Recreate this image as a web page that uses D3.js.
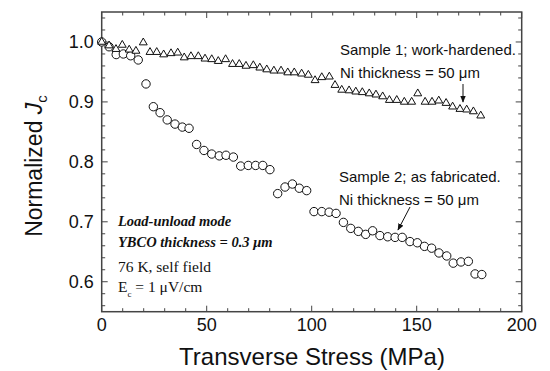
<!DOCTYPE html>
<html><head><meta charset="utf-8">
<script src="https://cdn.jsdelivr.net/npm/d3@7"></script>
<style>body{margin:0;background:#fff}svg{display:block}</style>
</head><body>
<svg id="c" width="550" height="371"></svg>
<script>
const s1x=[0,3.5,6.8,9.8,13.1,16.3,19.8,23,26.2,29.5,33,36.2,39.3,42.5,46,49.2,52.4,55.5,59,62.3,65.5,68.7,72.2,75.3,78.6,82,85.4,88.6,91.7,95.2,98.4,101.6,104.8,108.4,111.1,114.3,117.8,121,124.1,127.4,130.6,133.8,137,140.5,144.1,147.6,150.5,154,157.3,160.5,164,167.1,170.6,173.8,177,180.5];
const s1y=[1.0,0.994,0.988,0.995,0.987,0.985,0.999,0.983,0.983,0.979,0.981,0.982,0.974,0.976,0.976,0.972,0.971,0.968,0.971,0.963,0.963,0.96,0.961,0.957,0.954,0.952,0.952,0.949,0.949,0.947,0.945,0.936,0.941,0.942,0.928,0.92,0.919,0.917,0.916,0.914,0.912,0.909,0.903,0.903,0.9,0.9,0.914,0.9,0.9,0.902,0.898,0.892,0.888,0.887,0.884,0.877];
const s2x=[0,3.5,6.9,10.3,13.8,17.4,21.1,24.6,27.8,31.2,34.9,38.4,41.6,45.2,48.7,52.4,56,59.2,62.7,66.2,69.8,73.3,76.7,80.1,83.8,87.3,90.8,94.1,97.6,101.1,104.8,108.3,111.6,115.1,118.6,122.2,125.7,129,132.5,136.2,139.7,143.1,146.8,150.3,153.7,157.1,160.6,164.3,167.4,171.1,174.6,177.8,181];
const s2y=[1.0,0.992,0.979,0.98,0.977,0.97,0.93,0.892,0.882,0.87,0.863,0.858,0.856,0.829,0.819,0.813,0.81,0.811,0.808,0.793,0.794,0.794,0.794,0.787,0.747,0.758,0.763,0.756,0.752,0.717,0.717,0.716,0.714,0.699,0.689,0.684,0.679,0.685,0.677,0.675,0.674,0.674,0.667,0.665,0.659,0.656,0.648,0.643,0.631,0.633,0.634,0.613,0.612];
const xTicks=[0,50,100,150,200];
const yTicks=[0.6,0.7,0.8,0.9,1.0];

const svg=d3.select('#c');
const L=101.7,R=521.7,T=12,B=311.7;
const x=d3.scaleLinear().domain([0,200]).range([L,R]);
const y=d3.scaleLinear().domain([0.55,1.05]).range([B,T]);
const ax='#444';
const g=svg.append('g');

d3.range(0,201,10).forEach(v=>{const m=v%50===0;const len=m?6:3.5;
  g.append('line').attr('x1',x(v)).attr('x2',x(v)).attr('y1',B).attr('y2',B-len).attr('stroke',ax).attr('stroke-width',1);
  g.append('line').attr('x1',x(v)).attr('x2',x(v)).attr('y1',T).attr('y2',T+len).attr('stroke',ax).attr('stroke-width',1);
});
d3.range(0,26).map(i=>0.56+i*0.02).filter(v=>v<1.05).forEach(v=>{
  const m=Math.abs(Math.round(v*10)-v*10)<1e-6;const len=m?6:3.5;
  g.append('line').attr('x1',L).attr('x2',L+len).attr('y1',y(v)).attr('y2',y(v)).attr('stroke',ax).attr('stroke-width',1);
  g.append('line').attr('x1',R).attr('x2',R-len).attr('y1',y(v)).attr('y2',y(v)).attr('stroke',ax).attr('stroke-width',1);
});
g.append('rect').attr('x',L).attr('y',T).attr('width',R-L).attr('height',B-T).attr('fill','none').attr('stroke',ax).attr('stroke-width',1.5);

const tf='Liberation Sans, Arial, sans-serif';
svg.selectAll('.xl').data(xTicks).join('text').attr('x',d=>x(d)).attr('y',B+19).attr('text-anchor','middle')
  .attr('font-family',tf).attr('font-size',18).attr('fill','#111').text(d=>d);
svg.selectAll('.yl').data(yTicks).join('text').attr('x',L-8).attr('y',d=>y(d)+6.5).attr('text-anchor','end')
  .attr('font-family',tf).attr('font-size',18).attr('fill','#111').text(d=>d3.format('.1f')(d));

svg.append('text').attr('x',312).attr('y',365).attr('text-anchor','middle').attr('font-family',tf).attr('font-size',24).attr('fill','#111').text('Transverse Stress (MPa)');
const yt=svg.append('text').attr('transform','translate(42,166) rotate(-90)').attr('text-anchor','middle').attr('font-family',tf).attr('font-size',23).attr('fill','#111');
yt.append('tspan').text('Normalized ');
yt.append('tspan').attr('font-style','italic').text('J');
yt.append('tspan').attr('font-size',15).attr('dy',5).text('c');

const d1=s1x.map((v,i)=>[v,s1y[i]]), d2=s2x.map((v,i)=>[v,s2y[i]]);
svg.append('g').selectAll('circle').data(d2).join('circle').attr('cx',d=>x(d[0])).attr('cy',d=>y(d[1])).attr('r',4.2)
  .attr('fill','#fff').attr('stroke','#111').attr('stroke-width',1);
const tri=d3.symbol().type(d3.symbolTriangle).size(27);
svg.append('g').selectAll('path').data(d1).join('path').attr('d',tri).attr('transform',d=>`translate(${x(d[0])},${y(d[1])})`)
  .attr('fill','#fff').attr('stroke','#111').attr('stroke-width',1);

const af='Liberation Sans, Arial, sans-serif';
function txt(xx,yy,t,opt={}){return svg.append('text').attr('x',xx).attr('y',yy).attr('font-family',opt.f||af).attr('font-size',opt.s||15)
  .attr('font-weight',opt.w||'normal').attr('font-style',opt.i||'normal').attr('fill','#111').text(t);}
txt(340,55,'Sample 1; work-hardened.');
txt(340,78,'Ni thickness = 50 \u03bcm');
txt(339,182,'Sample 2; as fabricated.');
txt(339,205,'Ni thickness = 50 \u03bcm');
svg.append('defs').append('marker').attr('id','ah').attr('viewBox','0 0 10 10').attr('refX',9).attr('refY',5)
  .attr('markerWidth',7).attr('markerHeight',7).attr('orient','auto').append('path').attr('d','M0,1L10,5L0,9z').attr('fill','#111');
svg.append('line').attr('x1',463).attr('y1',84).attr('x2',463).attr('y2',102).attr('stroke','#111').attr('stroke-width',1).attr('marker-end','url(#ah)');
svg.append('line').attr('x1',410).attr('y1',207).attr('x2',398).attr('y2',230).attr('stroke','#111').attr('stroke-width',1).attr('marker-end','url(#ah)');

const sf='Liberation Serif, Times New Roman, serif';
txt(118,226,'Load-unload mode',{f:sf,s:14.5,w:'bold',i:'italic'});
txt(118,247,'YBCO thickness = 0.3  \u03bcm',{f:sf,s:14.5,w:'bold',i:'italic'});
txt(118,272,'76 K, self field',{f:sf,s:15.5});
const ec=txt(118,292,'',{f:sf,s:15.5});
ec.append('tspan').text('E');
ec.append('tspan').attr('font-size',9).attr('dy',5).text('c');
ec.append('tspan').attr('dy',-5).text(' = 1 \u03bcV/cm');
</script>
</body></html>
